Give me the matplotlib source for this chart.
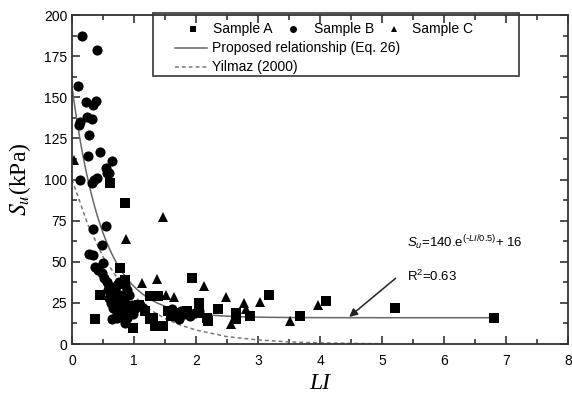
import numpy as np
import matplotlib
matplotlib.use('Agg')
import matplotlib.pyplot as plt
from matplotlib.patches import Rectangle
from matplotlib.ticker import MultipleLocator

plt.rcParams['font.family'] = ['Liberation Sans', 'DejaVu Sans']
plt.rcParams['mathtext.fontset'] = 'custom'
plt.rcParams['mathtext.rm'] = 'Liberation Sans'
plt.rcParams['mathtext.it'] = 'Liberation Sans:italic'

# Sample A (squares)
li_a = [0.37, 0.45, 0.61, 0.78, 0.85, 0.85, 0.99, 1.00, 1.08, 1.18, 1.25, 1.26, 1.31,
        1.33, 1.38, 1.47, 1.55, 1.60, 1.68, 1.75, 1.85, 1.93, 2.04, 2.05, 2.17, 2.19,
        2.35, 2.65, 2.65, 2.87, 3.17, 3.68, 4.09, 5.21, 6.81]
su_a = [15, 30, 98, 46, 86, 39, 10, 22, 24, 20, 15, 29, 16,
        11, 29, 11, 20, 17, 19, 18, 20, 40, 25, 19, 16, 14,
        21, 19, 15, 17, 30, 17, 26, 22, 16]

# Sample B (circles)
li_b = [0.16, 0.40, 0.09, 0.22, 0.385, 0.33, 0.24, 0.32, 0.13, 0.11, 0.28, 0.45, 0.26,
        0.65, 0.54, 0.56, 0.13, 0.32, 0.36, 0.40, 0.59,
        0.34, 0.55, 0.48, 0.28, 0.34, 0.37, 0.42, 0.50, 0.48, 0.51, 0.56,
        0.60, 0.62, 0.65, 0.68, 0.70, 0.72, 0.75, 0.80, 0.85, 0.88, 0.62, 0.66,
        0.70, 0.74, 0.78, 0.82, 0.86, 0.90, 0.94, 0.96, 0.72, 0.77, 0.82, 0.88,
        0.64, 0.72, 0.77, 0.85, 0.60, 0.98, 1.02, 1.10, 1.15, 0.92, 0.58,
        1.58, 1.65, 1.72, 1.80, 1.90, 1.98, 2.05, 1.62, 1.75]
su_b = [187, 179, 157, 147, 148, 145, 138, 137, 135, 133, 127, 117, 114,
        111, 107, 104, 100, 98, 100, 101, 104,
        70, 72, 60, 55, 54, 47, 45, 49, 43, 40, 38,
        35, 32, 30, 28, 33, 36, 38, 37, 36, 33, 25, 22,
        26, 24, 30, 27, 25, 22, 20, 24, 18, 20, 18, 16,
        15, 16, 17, 13, 28, 18, 22, 24, 22, 30, 33,
        19, 17, 15, 18, 17, 19, 20, 21, 20]

# Sample C (triangles)
li_c = [0.03, 0.87, 1.46, 1.12, 1.37, 1.52, 1.65, 2.13, 2.49, 2.77, 2.81, 2.57, 3.03,
        3.51, 3.97]
su_c = [112, 64, 77.5, 37, 39.5, 30, 28.5, 35.5, 28.5, 25, 21.5, 12, 25.5,
        14.3, 24]

# proposed relationship (Eq. 26): Su = a*exp(-LI/b) + c
fit_a, fit_b, fit_c = 140, 0.5, 16
fit_li_max = 6.8

# Yilmaz (2000) curve
li_y = [0, 0.25, 0.5, 0.75, 1.0, 1.25, 1.5, 1.75, 2.0, 2.5, 3.0, 3.5, 4.0, 4.5, 5.0]
su_y = [100, 73, 53, 39, 29, 21, 15.5, 11.5, 8.5, 4.5, 2.5, 1.3, 0.7, 0.4, 0.2]

fig = plt.figure(figsize=(5.72, 3.95), dpi=100)
ax = fig.add_axes([0.126, 0.129, 0.867, 0.833])

x_fit = np.linspace(0, fit_li_max, 300)
ax.plot(x_fit, fit_a * np.exp(-x_fit / fit_b) + fit_c, color='#666666', lw=1.1)
ax.plot(li_y, su_y, color='#777777', lw=1.1, ls=(0, (2.5, 2)))

ax.plot(li_a, su_a, 's', color='black', ms=6.8, mew=0)
ax.plot(li_b, su_b, 'o', color='black', ms=7.3, mew=0)
ax.plot(li_c, su_c, '^', color='black', ms=7.8, mew=0)

ax.set_xlim(0, 8)
ax.set_ylim(0, 200)
ax.xaxis.set_major_locator(MultipleLocator(1))
ax.xaxis.set_minor_locator(MultipleLocator(0.5))
ax.yaxis.set_major_locator(MultipleLocator(25))
ax.yaxis.set_minor_locator(MultipleLocator(12.5))
ax.tick_params(which='both', direction='in', top=True, right=True,
               labelsize=10, color='#333333', width=1.2)
ax.tick_params(which='major', length=6)
ax.tick_params(which='minor', length=3.5)
ax.tick_params(axis='x', pad=7)
for s in ax.spines.values():
    s.set_color('#333333')
    s.set_linewidth(1.3)

ax.set_xlabel('LI', family='Liberation Serif', style='italic', fontsize=17)
ax.xaxis.set_label_coords(0.5, -0.087)
ax.set_ylabel(r'$S_u$(kPa)', family='Liberation Serif', fontsize=17,
              math_fontfamily='stix')
ax.yaxis.set_label_coords(-0.078, 0.5)

# equation and arrow
ax.text(5.4, 61.5, r'$S_u$=140.e$^{(\text{-}\mathit{LI}/0.5)}$+ 16', fontsize=9.5,
        va='center', ha='left')
ax.text(5.4, 41, r'R$^2$=0.63', fontsize=9.5, va='center', ha='left')
ax.annotate('', xy=(4.47, 16.5), xytext=(5.22, 40),
            arrowprops=dict(arrowstyle='-|>', color='#222222', lw=1.1,
                            mutation_scale=12, shrinkA=0, shrinkB=0))

# legend box drawn by hand
ax.add_patch(Rectangle((0.163, 0.815), 0.738, 0.19, transform=ax.transAxes,
                       fill=False, edgecolor='#444444', lw=1.3, clip_on=False))
row1, row2, row3 = 0.957, 0.900, 0.842
for mx, tx, mk, lab in [(0.244, 0.284, 's', 'Sample A'),
                        (0.445, 0.488, 'o', 'Sample B'),
                        (0.649, 0.685, '^', 'Sample C')]:
    ax.plot([mx], [row1], mk, color='black', ms=5, mew=0, transform=ax.transAxes)
    ax.text(tx, row1, lab, transform=ax.transAxes, fontsize=10, va='center')
ax.plot([0.208, 0.272], [row2, row2], color='#666666', lw=1.1, transform=ax.transAxes)
ax.text(0.282, row2, 'Proposed relationship (Eq. 26)', transform=ax.transAxes,
        fontsize=10, va='center')
ax.plot([0.208, 0.272], [row3, row3], color='#777777', lw=1.1, ls=(0, (2.5, 2)),
        transform=ax.transAxes)
ax.text(0.282, row3, 'Yilmaz (2000)', transform=ax.transAxes, fontsize=10, va='center')

fig.savefig('out.png', dpi=100)
